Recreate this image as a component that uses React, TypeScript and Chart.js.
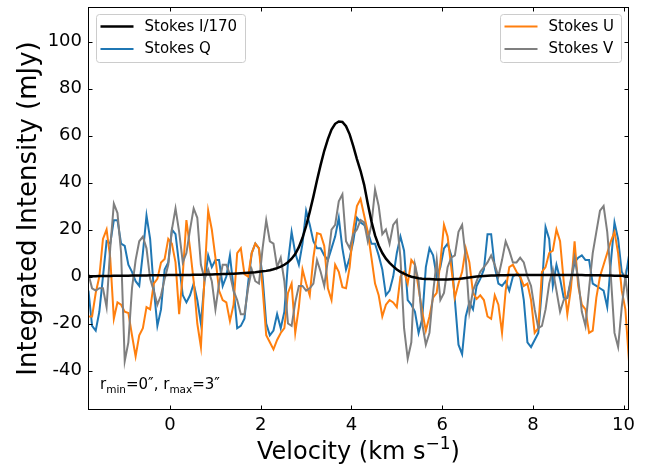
import React, { useEffect, useRef } from "react";
import { Chart, registerables } from "chart.js";

Chart.register(...registerables);

// ---------------- data ----------------
const V_START = -1.8; // km/s, first channel
const V_STEP = 0.08; // km/s, channel width

const stokesI170: number[] = [
  0.1, 0.1, 0.1, 0.2, 0.2, 0.2, 0.2, 0.3, 0.3, 0.3,
  0.3, 0.3, 0.4, 0.4, 0.4, 0.4, 0.4, 0.5, 0.5, 0.5,
  0.5, 0.5, 0.6, 0.6, 0.6, 0.6, 0.7, 0.7, 0.7, 0.8,
  0.8, 0.8, 0.9, 0.9, 0.9, 1.0, 1.0, 1.1, 1.1, 1.2,
  1.2, 1.3, 1.4, 1.5, 1.6, 1.7, 1.8, 2.0, 2.2, 2.4,
  2.7, 3.1, 3.6, 4.2, 5.0, 6.1, 7.6, 9.6, 12.5, 16.5,
  21.5, 27.5, 34, 41, 47.5, 53.5, 58.5, 62.5, 65, 66,
  65.8, 64, 60.5, 55.5, 50, 45, 39, 31, 23.5, 17.5,
  13.2, 10, 7.6, 5.8, 4.3, 3.0, 2.0, 1.2, 0.5, -0.1,
  -0.4, -0.7, -0.9, -1.0, -1.1, -1.2, -1.3, -1.3, -1.3, -1.3,
  -1.2, -1.1, -1.0, -0.8, -0.6, -0.4, -0.2, 0, 0.1, 0.2,
  0.3, 0.4, 0.4, 0.5, 0.5, 0.5, 0.6, 0.6, 0.6, 0.6,
  0.6, 0.6, 0.6, 0.6, 0.6, 0.6, 0.6, 0.6, 0.6, 0.6,
  0.6, 0.6, 0.6, 0.6, 0.6, 0.6, 0.6, 0.5, 0.5, 0.5,
  0.5, 0.5, 0.4, 0.4, 0.4, 0.3, 0.3, 0.3, 0.2, 0.2,
];

const stokesQ: number[] = [
  -6, -21, -23, -15, 0, 15, 14, 24, 24, 14, 13, 5, 2, -2, -4, 10, 26, 16, -5, -21,
  -14, 3, 6, 20, 18, 5, -8, -11, -8, -3,
  -10, -20, -2, 9, 4, 7, 7, -4, 0, 9, -5, -22, -21, -18, -3, 10, 14, 12, 0, -20,
  -25, -23, -16, -22, -15, 6, 19, 10, 5, 14,
  28, 22, 15, 12, 12, 9, 7, 12, 17, 25, 12, 3, 8, 15, 25, 23, 22, 19, 14, 14,
  9, 3, -8, -6, 0, 10, 17, 11, -10, -12,
  -15, -24, -18, 4, 12, 9, 0, 4, 12, 14, 9, -10, -29, -33, -17, -11, -14, -4, -1, 3,
  18, 18, 4, -3, -4, -2, -6, 0, 1,
  0, -10, -28, -30, -27, -24, -5, 21, 16, -4, 5, -1, -9, -9, -2, 6, 8, 9, 7, 7,
  -3, -4, -5, -6, -13, 6, 23, 16, 2, -1, 9,
];

const stokesU: number[] = [
  -17, -17, -7, 0, 16, 20, 8, -18, -11, -12, -15, -15.5, -25, -34, -25, -22, -13, -14, -3, -1,
  6, 7.5, 16, 14, 6, -16, 1, 24, 12, -2,
  -20, -30, 0, 28, 20, 8, -6, -10, -11, -19, -12, 10, 12, 1, 0, 10, 14, 12, -5, -25,
  -28, -31, -27, -24, -22, -7, -3, -24, -13, 3,
  -3, -8, 8, 18.5, 18, 13, -5, -10, 5, 2, -4.5, -5, 4, 20, 30, 33, 26, 19, 8, -3,
  -8, -17, -12, -10, -11, -13, 0, 2, -3, 7,
  5, -5, -15, -23, -17, -9, -7, 6, 22, 17, 4, -9, -3, 2, 12, 6, -7, -9.5, -8, -10,
  -17, -18, -8, -12, -24, -6, 4, 5, 2,
  0, -4, -3, -10, -24, -22, 2, 4, 10, 11, 20, 15, -2, -16, -5, 15, -4, -12, -14, -24,
  -23, -9, 0, 5, 10, 15, 19, 10, -6, -14, -36,
];

const stokesV: number[] = [
  1, -5, -6, -5, -5, -13, 12, 31, 27, 10, -36, -28, -5, 7, 15, 17, 12, -1, -6, -12,
  -8, -1, 5, 20, 29, 19, 6, 10, 20, 29,
  25, 5, -1, 3, -2, -14, -3, 5, 5, 1, -6, -10, -16, -16, -5, 3, -2, -3, 12, 24,
  15, 14, 4, 8, -2, -20, -21, -11, -4, -4,
  -6, -5, -3, 7, 2, -4, 7, 20, 22, 32, 35, 15, 12, 18, 20, 24, 23, 15, 22, 37,
  30, 18, 20, 14, 22, 24, 8, -22, -35, -28,
  5, -2, -20, -29, -24, -7, 7, -10, -7, 4, 8, 9, 19, 22, 8, -15, -6, -2, 2, 4,
  6, 9, 5, 0, 7, 15, 11, 6, 6,
  8, 6, 0, -4, -14, -22, -21, -14, -3, 3, -6, -15, -10, -9, -1, 8, -1, -15, -21, -5,
  10, 19, 28, 30, 19, 0, -24, -30, -13, 0, -13,
];

const velocity: number[] = stokesI170.map((_, i) => +(V_START + V_STEP * i).toFixed(2));

const seriesLabels = ["Stokes I/170", "Stokes Q", "Stokes U", "Stokes V"];
const seriesColors = ["#000000", "#1f77b4", "#ff7f0e", "#7f7f7f"];

const xTickValues = [0, 2, 4, 6, 8, 10];
const yTickValues = [-40, -20, 0, 20, 40, 60, 80, 100];
const X_MIN = -1.81;
const X_MAX = 10.12;
const Y_MIN = -56.8;
const Y_MAX = 114.7;

const FONT = "'DejaVu Sans', sans-serif";

// ---------------- drawing helpers ----------------
function drawLegendBox(ctx: CanvasRenderingContext2D, x: number, y: number, w: number, h: number, idx: number[]) {
  ctx.save();
  const r = 3;
  ctx.beginPath();
  ctx.moveTo(x + r, y);
  ctx.lineTo(x + w - r, y);
  ctx.quadraticCurveTo(x + w, y, x + w, y + r);
  ctx.lineTo(x + w, y + h - r);
  ctx.quadraticCurveTo(x + w, y + h, x + w - r, y + h);
  ctx.lineTo(x + r, y + h);
  ctx.quadraticCurveTo(x, y + h, x, y + h - r);
  ctx.lineTo(x, y + r);
  ctx.quadraticCurveTo(x, y, x + r, y);
  ctx.closePath();
  ctx.fillStyle = "rgba(255,255,255,0.8)";
  ctx.fill();
  ctx.strokeStyle = "#cccccc";
  ctx.lineWidth = 1;
  ctx.stroke();
  idx.forEach((k, row) => {
    const cy = y + 12 + row * 22.5;
    ctx.beginPath();
    ctx.strokeStyle = seriesColors[k];
    ctx.lineWidth = k === 0 ? 2.5 : 2.2;
    ctx.moveTo(x + 4, cy);
    ctx.lineTo(x + 37, cy);
    ctx.stroke();
    ctx.fillStyle = "#000";
    ctx.font = `15px ${FONT}`;
    ctx.textBaseline = "middle";
    ctx.textAlign = "left";
    ctx.fillText(seriesLabels[k], x + 48, cy + 0.5);
  });
  ctx.restore();
}

const framePlugin = {
  id: "mplFrame",
  afterDraw(chart: any) {
    const { ctx, chartArea, scales } = chart;
    const { left, right, top, bottom } = chartArea;
    ctx.save();
    // frame
    ctx.strokeStyle = "#000";
    ctx.lineWidth = 1;
    ctx.strokeRect(Math.round(left) + 0.5, Math.round(top) + 0.5, Math.round(right - left) - 1, Math.round(bottom - top) - 1);
    // inward ticks on all sides
    const tl = 4.5;
    ctx.beginPath();
    xTickValues.forEach((v) => {
      const px = Math.round(scales.x.getPixelForValue(v)) + 0.5;
      ctx.moveTo(px, bottom);
      ctx.lineTo(px, bottom - tl);
      ctx.moveTo(px, top);
      ctx.lineTo(px, top + tl);
    });
    yTickValues.forEach((v) => {
      const py = Math.round(scales.y.getPixelForValue(v)) + 0.5;
      ctx.moveTo(left, py);
      ctx.lineTo(left + tl, py);
      ctx.moveTo(right, py);
      ctx.lineTo(right - tl, py);
    });
    ctx.stroke();

    // legends
    drawLegendBox(ctx, 96.5, 14.5, 149, 48, [0, 1]);
    drawLegendBox(ctx, 500.5, 14.5, 121, 48, [2, 3]);

    // annotation r_min=0'', r_max=3''
    ctx.fillStyle = "#000";
    ctx.textAlign = "left";
    ctx.textBaseline = "alphabetic";
    let ax = 100;
    const ay = 389;
    const big = `15px ${FONT}`;
    const small = `10.5px ${FONT}`;
    const pieces: [string, boolean][] = [
      ["r", false],
      ["min", true],
      ["=0\u2033, r", false],
      ["max", true],
      ["=3\u2033", false],
    ];
    pieces.forEach(([t, sub]) => {
      ctx.font = sub ? small : big;
      ctx.fillText(t, ax, sub ? ay + 3.5 : ay);
      ax += ctx.measureText(t).width;
    });

    // y title
    ctx.save();
    ctx.translate(29, (top + bottom) / 2);
    ctx.rotate(-Math.PI / 2);
    ctx.font = `26px ${FONT}`;
    ctx.textAlign = "center";
    ctx.textBaseline = "middle";
    ctx.fillText("Integrated Intensity (mJy)", 0, 0);
    ctx.restore();

    // x title with superscript
    const main1 = "Velocity (km s";
    const sup = "\u22121";
    const main2 = ")";
    ctx.font = `24px ${FONT}`;
    const w1 = ctx.measureText(main1).width;
    const w3 = ctx.measureText(main2).width;
    ctx.font = `17px ${FONT}`;
    const w2 = ctx.measureText(sup).width;
    const total = w1 + w2 + w3;
    let tx = (left + right) / 2 - total / 2;
    const ty = 459;
    ctx.textAlign = "left";
    ctx.textBaseline = "alphabetic";
    ctx.font = `24px ${FONT}`;
    ctx.fillText(main1, tx, ty);
    tx += w1;
    ctx.font = `17px ${FONT}`;
    ctx.fillText(sup, tx, ty - 10);
    tx += w2;
    ctx.font = `24px ${FONT}`;
    ctx.fillText(main2, tx, ty);
    ctx.restore();
  },
};

export default function App() {
  const canvasRef = useRef<HTMLCanvasElement | null>(null);

  useEffect(() => {
    if (!canvasRef.current) return;
    const seriesValues = [stokesI170, stokesQ, stokesU, stokesV];
    const drawOrder = [0, 3, 2, 1];
    const chart = new Chart(canvasRef.current, {
      type: "line",
      data: {
        datasets: seriesValues.map((vals, k) => ({
          label: seriesLabels[k],
          data: vals.map((y, i) => ({ x: velocity[i], y })),
          borderColor: seriesColors[k],
          backgroundColor: seriesColors[k],
          borderWidth: k === 0 ? 2.5 : 2,
          pointRadius: 0,
          tension: 0,
          fill: false,
          order: drawOrder[k],
        })),
      },
      options: {
        animation: false,
        responsive: false,
        devicePixelRatio: 1,
        layout: { padding: { left: 0, top: 7, right: 18, bottom: 0 } },
        plugins: { legend: { display: false }, tooltip: { enabled: false } },
        scales: {
          x: {
            type: "linear",
            min: X_MIN,
            max: X_MAX,
            grid: { display: false, drawTicks: false },
            border: { display: false },
            ticks: {
              includeBounds: false,
              padding: 5,
              color: "#000",
              font: { family: FONT, size: 18 },
              maxRotation: 0,
            },
            afterBuildTicks: (scale: any) => {
              scale.ticks = xTickValues.map((v) => ({ value: v }));
            },
            afterFit: (scale: any) => {
              scale.height = 54;
              scale.paddingLeft = 0;
              scale.paddingRight = 0;
            },
          },
          y: {
            type: "linear",
            min: Y_MIN,
            max: Y_MAX,
            grid: { display: false, drawTicks: false },
            border: { display: false },
            ticks: {
              includeBounds: false,
              padding: 6,
              color: "#000",
              font: { family: FONT, size: 18 },
            },
            afterBuildTicks: (scale: any) => {
              scale.ticks = yTickValues.map((v) => ({ value: v }));
            },
            afterFit: (scale: any) => {
              scale.width = 88;
              scale.paddingTop = 0;
              scale.paddingBottom = 0;
            },
          },
        },
      },
      plugins: [framePlugin],
    });
    return () => chart.destroy();
  }, []);

  return (
    <div style={{ position: "fixed", left: 0, top: 0, width: 647, height: 464, background: "#fff" }}>
      <canvas ref={canvasRef} width={647} height={464} style={{ display: "block" }} />
    </div>
  );
}
